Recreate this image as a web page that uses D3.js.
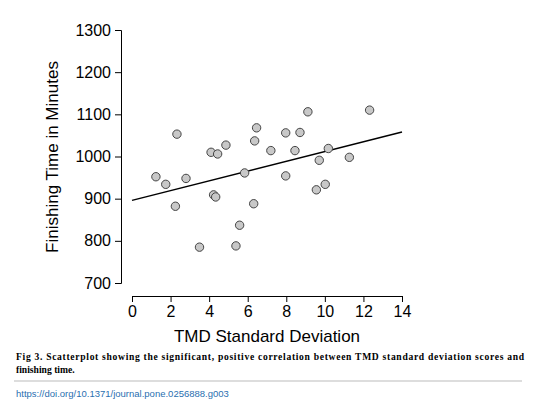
<!DOCTYPE html><html><head><meta charset="utf-8"><script src="https://cdn.jsdelivr.net/npm/d3@7"></script>
<style>body{margin:0;background:#fff}</style></head><body><svg id="c" width="544" height="420"></svg>
<script>
const xs=[1.24,1.75,2.33,2.8,2.25,3.5,4.1,4.44,4.87,4.23,4.34,5.84,5.58,5.39,6.36,6.46,6.31,7.2,7.97,7.97,8.71,8.45,9.12,9.71,10.18,9.56,10.02,11.27,12.32];
const ys=[952,934,1053,948,882,785,1010,1006,1027,909,904,961,837,788,1037,1068,888,1014,1056,954,1057,1014,1106,991,1019,921,934,998,1110];
const fitX=[0,14], fitY=[896,1058];
const xTicks=[0,2,4,6,8,10,12,14], yTicks=[700,800,900,1000,1100,1200,1300];
const svg=d3.select("#c");
const x=d3.scaleLinear([0,14],[132,402]), y=d3.scaleLinear([700,1300],[283,30]);
const f="Liberation Sans, Arial, sans-serif";
const ya=svg.append("g").attr("transform","translate(121,0)").call(d3.axisLeft(y).tickValues(yTicks).tickFormat(d3.format("d")).tickSize(6).tickPadding(4));
const xa=svg.append("g").attr("transform","translate(0,296)").call(d3.axisBottom(x).tickValues(xTicks).tickFormat(d3.format("d")).tickSize(6).tickPadding(4));
[ya,xa].forEach(a=>{a.selectAll("text").attr("font-family",f).attr("font-size",16).attr("fill","#000");a.selectAll("line,path").attr("stroke","#000");});
svg.append("line").attr("x1",x(fitX[0])).attr("x2",x(fitX[1])).attr("y1",y(fitY[0])).attr("y2",y(fitY[1])).attr("stroke","#000").attr("stroke-width",1.5);
svg.selectAll("circle").data(xs).join("circle").attr("cx",d=>x(d)).attr("cy",(d,i)=>y(ys[i])).attr("r",4.2).attr("fill","#c8c8c8").attr("stroke","#444").attr("stroke-width",1);
svg.append("text").attr("x",267).attr("y",342).attr("text-anchor","middle").attr("font-family",f).attr("font-size",17).text("TMD Standard Deviation");
svg.append("text").attr("transform","translate(58,157) rotate(-90)").attr("text-anchor","middle").attr("font-family",f).attr("font-size",17).text("Finishing Time in Minutes");
const cap=svg.append("text").attr("font-family","Liberation Serif, serif").attr("font-size",9.6).attr("font-weight","bold");
cap.append("tspan").attr("x",16).attr("y",360).attr("textLength",508).text("Fig 3. Scatterplot showing the significant, positive correlation between TMD standard deviation scores and");
cap.append("tspan").attr("x",16).attr("y",373).text("finishing time.");
svg.append("line").attr("x1",14).attr("x2",522).attr("y1",381).attr("y2",381).attr("stroke","#bbb");
svg.append("text").attr("x",16).attr("y",397).attr("font-family",f).attr("font-size",9.5).attr("fill","#2a6fb0").text("https://doi.org/10.1371/journal.pone.0256888.g003");
</script></body></html>
